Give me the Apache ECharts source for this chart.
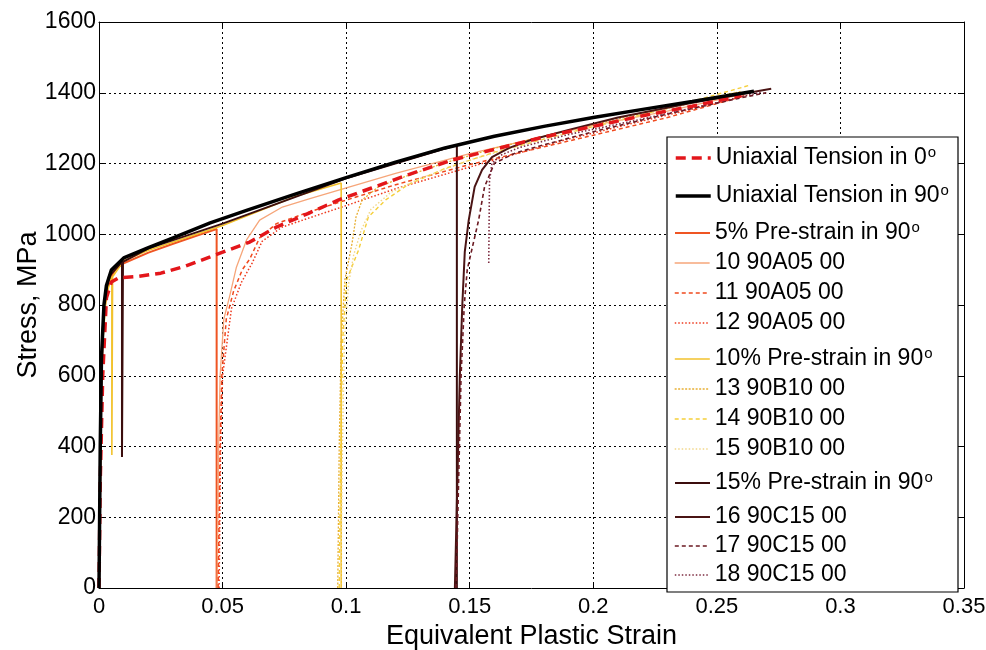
<!DOCTYPE html>
<html>
<head>
<meta charset="utf-8">
<script src="https://cdn.jsdelivr.net/npm/echarts@6/dist/echarts.min.js"></script>
<style>html,body{margin:0;padding:0;background:#fff;}#c{width:986px;height:650px;}</style>
</head>
<body>
<div id="c"></div>
<script>
// ---- tick labels ----
const xTicks = [0, 0.05, 0.1, 0.15, 0.2, 0.25, 0.3, 0.35];
const yTicks = [0, 200, 400, 600, 800, 1000, 1200, 1400, 1600];

// ---- series names (legend order) ----
const names = [
  'Uniaxial Tension in 0°', 'Uniaxial Tension in 90°',
  '5% Pre-strain in 90°', '10 90A05 00', '11 90A05 00', '12 90A05 00',
  '10% Pre-strain in 90°', '13 90B10 00', '14 90B10 00', '15 90B10 00',
  '15% Pre-strain in 90°', '16 90C15 00', '17 90C15 00', '18 90C15 00'
];

// ---- series values: [equivalent plastic strain, stress MPa] ----
const uni0 = [[0,0],[0.0005,300],[0.0015,600],[0.003,820],[0.005,865],[0.008,877],[0.015,880],[0.025,890],[0.035,910],[0.045,936],[0.061,978],[0.072,1021],[0.085,1060],[0.097,1097],[0.11,1130],[0.125,1168],[0.143,1210],[0.16,1240],[0.18,1275],[0.2,1305],[0.22,1335],[0.24,1362],[0.26,1392]];
const uni90 = [[0,0],[0.0005,400],[0.001,650],[0.002,800],[0.003,855],[0.005,899],[0.01,933],[0.02,962],[0.03,990],[0.045,1032],[0.06,1068],[0.08,1115],[0.1,1160],[0.12,1204],[0.14,1244],[0.16,1277],[0.18,1305],[0.2,1330],[0.22,1353],[0.24,1375],[0.265,1404]];
const pre5 = [[0,0],[0.001,600],[0.002,780],[0.004,870],[0.007,903],[0.01,918],[0.02,948],[0.03,973],[0.04,997],[0.0476,1015],[0.0476,0]];
const r10 = [[0.0478,0],[0.0484,400],[0.049,600],[0.0505,760],[0.0528,823],[0.0556,907],[0.0597,984],[0.065,1040],[0.0742,1077],[0.085,1100],[0.097,1125],[0.12,1172],[0.15,1228],[0.18,1277],[0.2,1308],[0.23,1348],[0.258,1392]];
const r11 = [[0.0482,0],[0.049,400],[0.0497,600],[0.0515,760],[0.0545,840],[0.058,900],[0.061,930],[0.065,990],[0.0718,1030],[0.085,1063],[0.097,1090],[0.12,1140],[0.15,1197],[0.18,1247],[0.2,1280],[0.23,1330],[0.2625,1394]];
const r12 = [[0.0486,0],[0.0492,400],[0.05,600],[0.0536,790],[0.0577,865],[0.062,919],[0.066,980],[0.074,1020],[0.085,1046],[0.097,1074],[0.121,1131],[0.15,1190],[0.186,1262],[0.215,1312],[0.245,1362],[0.262,1392]];
const pre10 = [[0,0],[0.001,650],[0.003,830],[0.0052,880],[0.0052,376],[0.0055,880],[0.01,925],[0.02,955],[0.05,1025],[0.08,1108],[0.098,1145],[0.098,0]];
const r13 = [[0.0966,0],[0.0972,400],[0.098,700],[0.0995,871],[0.1024,975],[0.104,1049],[0.1065,1097],[0.113,1134],[0.1226,1160],[0.14,1202],[0.16,1243],[0.19,1294],[0.22,1342],[0.25,1388],[0.26,1404]];
const r14 = [[0.0972,0],[0.0978,400],[0.0986,700],[0.1002,871],[0.105,955],[0.109,1049],[0.116,1097],[0.125,1140],[0.14,1186],[0.16,1232],[0.19,1287],[0.22,1338],[0.25,1395],[0.2637,1422]];
const r15 = [[0.0978,0],[0.0985,400],[0.0993,700],[0.101,860],[0.103,940],[0.106,1010],[0.11,1070],[0.118,1118],[0.13,1158],[0.15,1210],[0.18,1270],[0.21,1320],[0.24,1370],[0.258,1402]];
const pre15 = [[0,0],[0.0005,400],[0.001,650],[0.002,800],[0.004,880],[0.0093,922],[0.0093,370],[0.0097,922],[0.02,960],[0.05,1030],[0.1,1158],[0.1448,1252],[0.1448,0]];
const r16 = [[0.144,0],[0.145,300],[0.146,600],[0.147,800],[0.148,950],[0.1496,1040],[0.152,1134],[0.155,1182],[0.159,1218],[0.166,1244],[0.175,1267],[0.19,1295],[0.21,1330],[0.24,1372],[0.272,1411]];
const r17 = [[0.1445,0],[0.1455,300],[0.1465,600],[0.1478,800],[0.149,900],[0.1536,1040],[0.156,1134],[0.16,1201],[0.1686,1230],[0.178,1249],[0.2,1290],[0.23,1340],[0.26,1386],[0.27,1400]];
const r18 = [[0.1577,919],[0.1578,1000],[0.158,1150],[0.159,1201],[0.163,1225],[0.17,1245],[0.19,1282],[0.22,1326],[0.25,1372],[0.268,1402]];

const seriesData = [uni0, uni90, pre5, r10, r11, r12, pre10, r13, r14, r15, pre15, r16, r17, r18];

// ---- styles ----
const styles = [
  {color:'#e3161b', width:3.5, type:[10,6]},
  {color:'#000000', width:3.5, type:'solid'},
  {color:'#ef5523', width:2, type:'solid'},
  {color:'#f6a67a', width:1.3, type:'solid'},
  {color:'#f04a1e', width:1.5, type:[4,3]},
  {color:'#ee3a1f', width:1.5, type:[1.5,2]},
  {color:'#f2c22c', width:1.6, type:'solid'},
  {color:'#e8b035', width:1.3, type:[2,1.5]},
  {color:'#f5cf3a', width:1.4, type:[4,3]},
  {color:'#f2d78a', width:1.4, type:[1.5,2]},
  {color:'#3b0d0d', width:2, type:'solid'},
  {color:'#4a1414', width:2, type:'solid'},
  {color:'#6b1a22', width:1.6, type:[4,3]},
  {color:'#7d2c40', width:1.6, type:[1.5,2]}
];
const drawOrder = [2,3,4,5,6,7,8,9,10,11,12,13,0,1];
const legendCenters = [158,196,233,263,293,323,359,389,419,449,483,517,546,575];

const FONT = 'Liberation Sans, Arial, sans-serif';
const gridL = 99, gridR = 22, gridT = 22, gridB = 62;

const series = drawOrder.map(i => ({
  name: names[i],
  type: 'line',
  data: seriesData[i],
  showSymbol: false,
  symbol: 'none',
  legendIcon: 'path://M0,0L1,0',
  animation: false,
  lineStyle: {color: styles[i].color, width: styles[i].width, type: styles[i].type},
  itemStyle: {color: styles[i].color},
  z: 2
}));

const legends = names.map((n, i) => ({
  data: [n],
  orient: 'vertical',
  left: 674,
  top: legendCenters[i] - 13,
  padding: 0,
  itemWidth: 35,
  itemHeight: 14,
  selectedMode: false,
  itemStyle: {opacity: 0},
  lineStyle: {width: styles[i].width, type: styles[i].type, color: styles[i].color},
  formatter: s => s.replace('°', '{sup|o}'),
  textStyle: {
    fontFamily: FONT, fontSize: 23, color: '#000', lineHeight: 26,
    rich: {sup: {fontFamily: FONT, fontSize: 15, lineHeight: 26, verticalAlign: 'top', padding: [0,0,11,1]}}
  },
  z: 5
}));

const chart = echarts.init(document.getElementById('c'), null, {renderer: 'canvas'});
chart.setOption({
  backgroundColor: '#ffffff',
  animation: false,
  grid: {left: gridL, right: gridR, top: gridT, bottom: gridB, show: false, containLabel: false, outerBoundsMode: 'none'},
  legend: legends,
  graphic: [{
    type: 'rect', z: 3,
    shape: {x: 667, y: 137, width: 291, height: 455},
    style: {fill: '#ffffff', stroke: '#000', lineWidth: 1.2}
  }],
  xAxis: [{
    type: 'value', min: xTicks[0], max: xTicks[xTicks.length-1], interval: 0.05,
    position: 'bottom',
    name: 'Equivalent Plastic Strain', nameLocation: 'middle', nameGap: 29,
    nameTextStyle: {fontFamily: FONT, fontSize: 27, color: '#000'},
    axisLine: {show: true, onZero: false, lineStyle: {color: '#000', width: 1}},
    axisTick: {show: true, inside: true, length: 6, lineStyle: {color: '#000'}},
    axisLabel: {fontFamily: FONT, fontSize: 22, color: '#000', margin: 8,
      formatter: v => { const t = xTicks.find(k => Math.abs(k - v) < 1e-9); return t === undefined ? '' : String(t); }},
    splitLine: {show: true, lineStyle: {color: '#000', type: [2,3], width: 1}}
  }, {
    type: 'value', min: xTicks[0], max: xTicks[xTicks.length-1], interval: 0.05,
    position: 'top',
    axisLine: {show: true, onZero: false, lineStyle: {color: '#000', width: 1}},
    axisTick: {show: true, inside: true, length: 6, lineStyle: {color: '#000'}},
    axisLabel: {show: false}, splitLine: {show: false}
  }],
  yAxis: [{
    type: 'value', min: yTicks[0], max: yTicks[yTicks.length-1], interval: 200,
    position: 'left',
    name: 'Stress, MPa', nameLocation: 'middle', nameGap: 57, nameRotate: 90, nameMoveOverlap: false,
    nameTextStyle: {fontFamily: FONT, fontSize: 27, color: '#000'},
    axisLine: {show: true, onZero: false, lineStyle: {color: '#000', width: 1}},
    axisTick: {show: true, inside: true, length: 6, lineStyle: {color: '#000'}},
    axisLabel: {fontFamily: FONT, fontSize: 23, color: '#000', margin: 3,
      formatter: v => { const t = yTicks.find(k => Math.abs(k - v) < 1e-6); return t === undefined ? '' : String(t); }},
    splitLine: {show: true, lineStyle: {color: '#000', type: [2,3], width: 1}}
  }, {
    type: 'value', min: yTicks[0], max: yTicks[yTicks.length-1], interval: 200,
    position: 'right',
    axisLine: {show: true, onZero: false, lineStyle: {color: '#000', width: 1}},
    axisTick: {show: true, inside: true, length: 6, lineStyle: {color: '#000'}},
    axisLabel: {show: false}, splitLine: {show: false}
  }],
  series: series
});
</script>
</body>
</html>
